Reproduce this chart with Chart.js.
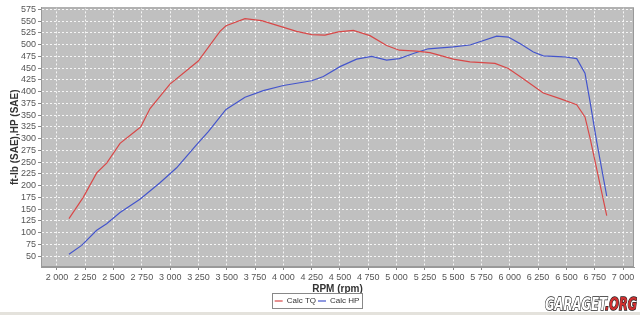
<!DOCTYPE html>
<html><head><meta charset="utf-8">
<script src="https://cdn.jsdelivr.net/npm/chart.js@4/dist/chart.umd.min.js"></script>
<style>html,body{margin:0;padding:0;background:#fff}#wrap{width:640px;height:315px}</style>
</head><body><div id="wrap"><canvas id="c" width="640" height="315"></canvas></div>
<script>
const tqRpm = [2106,2232,2351,2439,2557,2689,2740,2822,2998,3248,3440,3493,3661,3808,4117,4250,4367,4485,4618,4765,4912,5024,5177,5295,5383,5501,5648,5869,5987,6090,6296,6443,6591,6664,6709,6856];
const tqValues = [130,175,227,248,290,315,325,364,416,465,528,540,555,551,528,521,520,527,530,519,498,488,486,483,477,469,463,460,449,432,397,385,372,346,301,136];
const hpRpm = [2106,2218,2351,2439,2557,2733,2910,3057,3234,3337,3493,3661,3822,4000,4250,4353,4500,4647,4780,4912,5024,5148,5280,5501,5648,5884,5987,6090,6208,6296,6473,6591,6664,6709,6767,6856];
const hpValues = [54,73,105,119,143,171,206,238,287,315,362,388,402,413,423,432,453,469,475,467,470,481,491,495,499,518,516,502,484,476,474,470,439,378,294,178];
const xTicks = [2000,2250,2500,2750,3000,3250,3500,3750,4000,4250,4500,4750,5000,5250,5500,5750,6000,6250,6500,6750,7000];
const yTicks = [50,75,100,125,150,175,200,225,250,275,300,325,350,375,400,425,450,475,500,525,550,575];
const seriesNames = ['Calc TQ','Calc HP'];
const xTitle = 'RPM (rpm)';
const yTitle = 'ft-lb (SAE),HP (SAE)';
const watermark = ['GARAGET', '.ORG'];

const toPts = (xs, ys) => xs.map((x, i) => ({x, y: ys[i]}));
const fmt = v => { const s = String(Math.round(v)); return s.length > 3 ? s.slice(0, -3) + ' ' + s.slice(-3) : s; };

const deco = {
  id: 'deco',
  beforeDraw(chart) {
    const {ctx, chartArea: a} = chart;
    ctx.save();
    ctx.fillStyle = '#c0c0c0';
    ctx.fillRect(a.left, a.top, a.right - a.left, a.bottom - a.top);
    ctx.fillStyle = '#e4e2dc';
    ctx.fillRect(0, 312, 640, 3);
    ctx.restore();
  },
  afterDraw(chart) {
    const {ctx, chartArea: a} = chart;
    ctx.save();
    ctx.strokeStyle = '#999';
    ctx.lineWidth = 1;
    ctx.strokeRect(a.left + 0.5, a.top + 0.5, a.right - a.left - 1, a.bottom - a.top - 1);
    const lg = chart.legend;
    if (lg && lg.legendHitBoxes && lg.legendHitBoxes.length) {
      const hb = lg.legendHitBoxes;
      const l = hb[0].left - 3, r = hb[hb.length - 1].left + hb[hb.length - 1].width + 2;
      const t = hb[0].top - 4, b = hb[0].top + hb[0].height + 3;
      ctx.strokeStyle = '#888';
      ctx.strokeRect(Math.round(l) + 0.5, Math.round(t) + 0.5, Math.round(r - l), Math.round(b - t));
    }
    ctx.font = 'italic bold 18px "DejaVu Sans"';
    ctx.textBaseline = 'alphabetic';
    ctx.lineWidth = 1.5;
    ctx.strokeStyle = '#222';
    ctx.fillStyle = '#fff';
    ctx.strokeText(watermark[0], 545, 310, 62);
    ctx.fillText(watermark[0], 545, 310, 62);
    ctx.fillStyle = '#d03030';
    ctx.strokeText(watermark[1], 605, 310, 32);
    ctx.fillText(watermark[1], 605, 310, 32);
    ctx.restore();
  }
};

new Chart(document.getElementById('c'), {
  type: 'scatter',
  data: {
    datasets: [
      {label: seriesNames[0], data: toPts(tqRpm, tqValues), showLine: true, borderColor: '#d84848', backgroundColor: '#d84848', borderWidth: 1.2, pointRadius: 0, tension: 0},
      {label: seriesNames[1], data: toPts(hpRpm, hpValues), showLine: true, borderColor: '#4455cc', backgroundColor: '#4455cc', borderWidth: 1.2, pointRadius: 0, tension: 0}
    ]
  },
  options: {
    responsive: false,
    animation: false,
    layout: {padding: {top: 4, right: 6, bottom: 0, left: 0}},
    plugins: {
      tooltip: {enabled: false},
      legend: {
        position: 'bottom',
        labels: {
          usePointStyle: true, pointStyle: 'line', pointStyleWidth: 8, boxHeight: 7, padding: 2,
          color: '#333', font: {family: 'Liberation Sans', size: 8}
        }
      }
    },
    scales: {
      x: {
        type: 'linear', min: 1859, max: 7097,
        afterFit(s) { s.height = 28; },
        afterBuildTicks(s) { s.ticks = xTicks.map(v => ({value: v})); },
        ticks: {autoSkip: false, maxRotation: 0, color: '#555', font: {family: 'Liberation Sans', size: 9}, padding: 2, callback: v => fmt(v)},
        grid: {color: 'rgba(255,255,255,0.85)', tickColor: '#888', tickLength: 3, lineWidth: 1},
        border: {color: '#999', dash: [2, 2]},
        title: {display: true, text: xTitle, color: '#333', font: {family: 'Liberation Sans', size: 10, weight: 'bold'}, padding: {top: 1, bottom: 0}}
      },
      y: {
        min: 27, max: 579,
        afterFit(s) { s.width = 41; },
        afterBuildTicks(s) { s.ticks = yTicks.map(v => ({value: v})); },
        ticks: {autoSkip: false, color: '#555', font: {family: 'Liberation Sans', size: 9}, padding: 2},
        grid: {color: 'rgba(255,255,255,0.85)', tickColor: '#888', tickLength: 3, lineWidth: 1},
        border: {color: '#999', dash: [2, 2]},
        title: {display: true, text: yTitle, color: '#333', font: {family: 'Liberation Sans', size: 10, weight: 'bold'}, padding: {top: 9, bottom: 0}}
      }
    }
  },
  plugins: [deco]
});
</script>
</body></html>
